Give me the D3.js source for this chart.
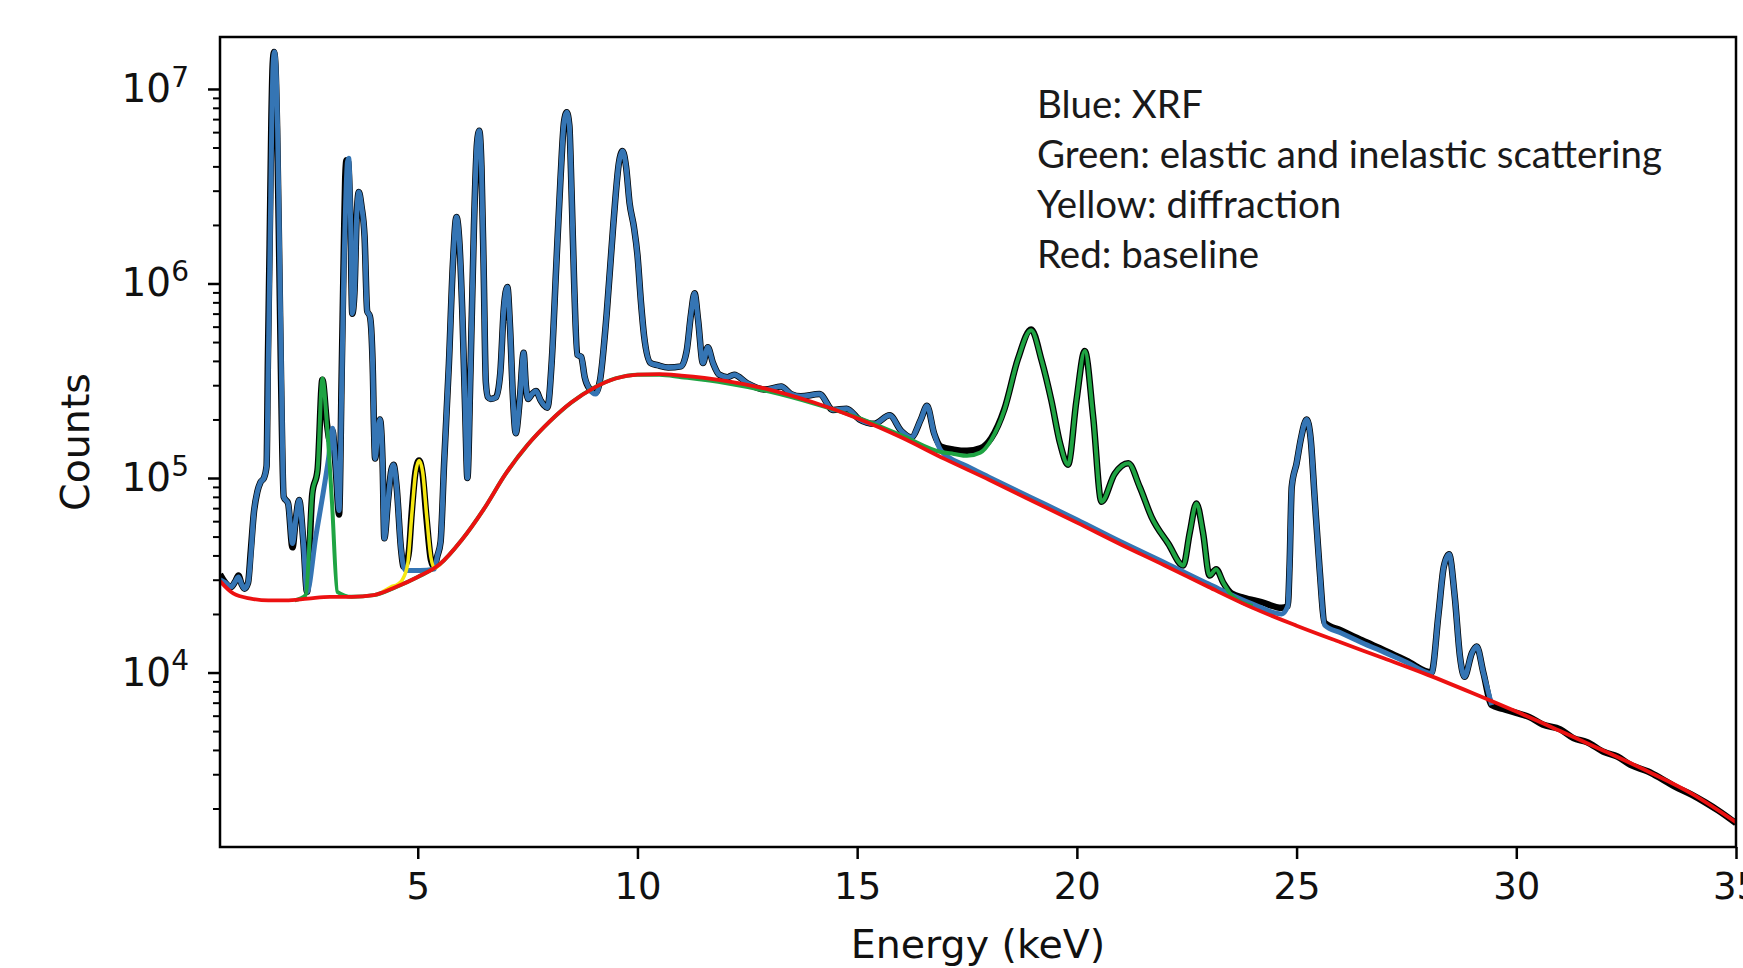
<!DOCTYPE html>
<html>
<head>
<meta charset="utf-8">
<script src="https://cdn.jsdelivr.net/npm/d3@7"></script>
<style>
  body { margin: 0; background: #fff; }
  svg { display: block; }
</style>
</head>
<body>
<div id="chart"></div>
<script>
// energy (keV), counts
var xrfFit = [
  [0.50, 30000],[0.62, 29000],[0.75, 27500],[0.85, 29500],[0.92, 31000],[0.99, 28500],[1.06, 27000],
  [1.14, 29000],[1.20, 40000],[1.27, 66000],[1.35, 85000],[1.42, 95000],[1.50, 100000],[1.56, 115000],
  [1.60, 4.0e5],[1.64, 1.6e6],[1.68, 7.1e6],[1.71, 1.35e7],[1.74, 1.55e7],[1.77, 1.35e7],[1.81, 6.3e6],
  [1.86, 1.26e6],[1.90, 3.2e5],[1.95, 8.0e4],[2.05, 7.4e4],[2.15, 4.6e4],[2.22, 6.0e4],[2.30, 7.7e4],
  [2.40, 4.6e4],[2.48, 2.6e4],[2.68, 5.0e4],[2.87, 9.0e4],[2.97, 1.26e5],[3.06, 1.8e5],[3.13, 1.19e5],
  [3.21, 6.8e4],[3.27, 3.0e5],[3.32, 1.2e6],[3.36, 2.6e6],[3.40, 4.2e6],[3.43, 4.4e6],[3.47, 2.2e6],
  [3.51, 7.0e5],[3.56, 9.0e5],[3.61, 2.2e6],[3.66, 2.95e6],[3.72, 2.5e6],[3.79, 1.74e6],[3.85, 7.2e5],
  [3.91, 6.8e5],[3.95, 5.4e5],[3.98, 3.4e5],[4.00, 2.0e5],[4.03, 1.26e5],[4.09, 1.7e5],[4.14, 2.0e5],
  [4.20, 1.2e5],[4.24, 4.9e4],[4.32, 7.5e4],[4.40, 1.1e5],[4.45, 1.17e5],[4.52, 9.0e4],[4.62, 4.3e4],
  [4.68, 3.5e4],[4.73, 3.35e4],[5.05, 3.35e4],[5.37, 3.4e4],[5.45, 4.0e4],[5.52, 4.7e4],[5.60, 1.19e5],
  [5.71, 3.9e5],[5.80, 1.26e6],[5.88, 2.2e6],[5.95, 1.6e6],[6.02, 6.5e5],[6.08, 2.2e5],[6.13, 1.0e5],
  [6.20, 3.5e5],[6.28, 2.0e6],[6.35, 5.3e6],[6.40, 6.1e6],[6.45, 4.0e6],[6.50, 1.2e6],[6.55, 3.1e5],
  [6.60, 2.6e5],[6.66, 2.55e5],[6.78, 2.6e5],[6.88, 3.5e5],[6.96, 7.5e5],[7.04, 9.6e5],[7.10, 6.0e5],
  [7.17, 2.5e5],[7.23, 1.7e5],[7.32, 2.5e5],[7.41, 4.4e5],[7.46, 3.0e5],[7.51, 2.55e5],[7.60, 2.7e5],
  [7.69, 2.8e5],[7.80, 2.5e5],[7.95, 2.3e5],[8.05, 4.0e5],[8.15, 1.2e6],[8.25, 3.5e6],[8.33, 6.8e6],
  [8.39, 7.6e6],[8.45, 6.5e6],[8.50, 3.0e6],[8.56, 1.0e6],[8.63, 4.3e5],[8.72, 4.2e5],[8.80, 3.3e5],
  [8.90, 2.9e5],[9.05, 2.7e5],[9.15, 3.2e5],[9.30, 7.0e5],[9.45, 2.0e6],[9.58, 4.2e6],[9.66, 4.8e6],
  [9.74, 4.0e6],[9.82, 2.6e6],[9.92, 1.95e6],[10.00, 1.4e6],[10.08, 8.0e5],[10.15, 5.4e5],[10.30, 3.9e5],
  [10.46, 3.8e5],[10.70, 3.7e5],[10.99, 3.75e5],[11.12, 4.5e5],[11.22, 7.0e5],[11.30, 8.9e5],[11.38, 6.5e5],
  [11.49, 3.9e5],[11.60, 4.7e5],[11.72, 3.9e5],[11.86, 3.4e5],[12.05, 3.3e5],[12.20, 3.4e5],[12.50, 3.07e5],
  [12.90, 2.85e5],[13.27, 2.95e5],[13.50, 2.7e5],[13.72, 2.63e5],[14.14, 2.7e5],[14.45, 2.24e5],[14.76, 2.27e5],
  [15.05, 2.0e5],[15.39, 1.9e5],[15.74, 2.1e5],[16.00, 1.75e5],[16.23, 1.62e5],[16.45, 2.0e5],[16.59, 2.35e5],
  [16.75, 1.7e5],[16.91, 1.38e5],[17.50, 1.15e5],[18.00, 1.01e5],[19.00, 7.85e4],[20.00, 6.1e4],[21.00, 4.7e4],
  [22.00, 3.67e4],[23.00, 2.85e4],[24.00, 2.25e4],[24.66, 2.0e4],[24.80, 2.2e4],[24.84, 3.5e4],[24.89, 9.0e4],
  [25.00, 1.19e5],[25.10, 1.6e5],[25.23, 2.0e5],[25.32, 1.6e5],[25.41, 8.0e4],[25.52, 3.5e4],[25.64, 1.75e4],
  [26.00, 1.6e4],[26.50, 1.42e4],[27.00, 1.27e4],[27.50, 1.13e4],[28.07, 9.9e3],[28.23, 2.0e4],[28.35, 3.5e4],
  [28.47, 4.05e4],[28.60, 2.45e4],[28.72, 1.2e4],[28.82, 9.5e3],[28.99, 1.26e4],[29.10, 1.36e4],[29.25, 1.0e4],
  [29.44, 6.8e3]
];

var measured = [
  [0.50, 32000],[0.62, 29000],[0.75, 27500],[0.85, 29500],[0.92, 31500],[0.99, 28500],[1.06, 27000],
  [1.14, 29000],[1.20, 42000],[1.27, 66000],[1.35, 85000],[1.42, 95000],[1.50, 100000],[1.56, 115000],
  [1.59, 4.0e5],[1.63, 1.6e6],[1.67, 7.1e6],[1.70, 1.35e7],[1.73, 1.55e7],[1.76, 1.35e7],[1.80, 6.3e6],
  [1.85, 1.26e6],[1.89, 3.2e5],[1.95, 8.0e4],[2.05, 7.4e4],[2.15, 4.4e4],[2.22, 6.0e4],[2.30, 7.7e4],
  [2.40, 4.6e4],[2.48, 2.6e4],[2.60, 8.3e4],[2.72, 1.1e5],[2.83, 3.2e5],[2.94, 1.85e5],[3.00, 1.55e5],
  [3.06, 1.75e5],[3.13, 1.15e5],[3.21, 6.5e4],[3.27, 3.5e5],[3.32, 1.6e6],[3.35, 3.5e6],[3.38, 4.3e6],
  [3.42, 4.2e6],[3.47, 2.0e6],[3.51, 7.0e5],[3.56, 9.0e5],[3.61, 2.2e6],[3.66, 2.95e6],[3.72, 2.5e6],
  [3.79, 1.74e6],[3.85, 7.2e5],[3.91, 6.8e5],[3.95, 5.4e5],[3.98, 3.4e5],[4.00, 2.0e5],[4.03, 1.26e5],
  [4.09, 1.7e5],[4.14, 2.0e5],[4.20, 1.2e5],[4.24, 4.9e4],[4.32, 7.5e4],[4.40, 1.1e5],[4.45, 1.17e5],
  [4.52, 9.0e4],[4.62, 4.3e4],[4.68, 3.5e4],[4.73, 3.6e4],[4.80, 4.2e4],[4.86, 6.5e4],[4.95, 1.08e5],
  [5.03, 1.23e5],[5.11, 1.05e5],[5.20, 6.2e4],[5.30, 3.8e4],[5.37, 3.5e4],[5.45, 4.0e4],[5.52, 4.7e4],
  [5.60, 1.19e5],[5.71, 3.9e5],[5.80, 1.26e6],[5.88, 2.2e6],[5.95, 1.6e6],[6.02, 6.5e5],[6.08, 2.2e5],
  [6.13, 1.0e5],[6.20, 3.5e5],[6.28, 2.0e6],[6.35, 5.3e6],[6.40, 6.1e6],[6.45, 4.0e6],[6.50, 1.2e6],
  [6.55, 3.1e5],[6.60, 2.6e5],[6.66, 2.55e5],[6.78, 2.6e5],[6.88, 3.5e5],[6.96, 7.5e5],[7.04, 9.6e5],
  [7.10, 6.0e5],[7.17, 2.5e5],[7.23, 1.7e5],[7.32, 2.5e5],[7.41, 4.4e5],[7.46, 3.0e5],[7.51, 2.55e5],
  [7.60, 2.7e5],[7.69, 2.8e5],[7.80, 2.5e5],[7.95, 2.3e5],[8.05, 4.0e5],[8.15, 1.2e6],[8.25, 3.5e6],
  [8.33, 6.8e6],[8.39, 7.6e6],[8.45, 6.5e6],[8.50, 3.0e6],[8.56, 1.0e6],[8.63, 4.3e5],[8.72, 4.2e5],
  [8.80, 3.3e5],[8.90, 2.9e5],[9.05, 2.75e5],[9.15, 3.2e5],[9.30, 7.0e5],[9.45, 2.0e6],[9.58, 4.2e6],
  [9.66, 4.8e6],[9.74, 4.0e6],[9.82, 2.6e6],[9.92, 1.95e6],[10.00, 1.4e6],[10.08, 8.0e5],[10.15, 5.4e5],
  [10.30, 3.9e5],[10.46, 3.8e5],[10.70, 3.7e5],[10.99, 3.75e5],[11.12, 4.5e5],[11.22, 7.0e5],[11.30, 8.9e5],
  [11.38, 6.5e5],[11.49, 3.9e5],[11.60, 4.7e5],[11.72, 3.9e5],[11.86, 3.4e5],[12.05, 3.3e5],[12.20, 3.4e5],
  [12.50, 3.07e5],[12.90, 2.85e5],[13.27, 2.95e5],[13.50, 2.7e5],[13.72, 2.63e5],[14.14, 2.7e5],[14.45, 2.24e5],
  [14.76, 2.27e5],[15.05, 2.0e5],[15.39, 1.9e5],[15.74, 2.1e5],[16.00, 1.75e5],[16.23, 1.62e5],[16.45, 2.0e5],
  [16.59, 2.35e5],[16.75, 1.7e5],[16.91, 1.45e5],[17.20, 1.4e5],[17.50, 1.38e5],[17.80, 1.42e5],[18.05, 1.6e5],
  [18.35, 2.26e5],[18.66, 4.1e5],[18.96, 5.8e5],[19.20, 4.0e5],[19.42, 2.5e5],[19.62, 1.5e5],[19.80, 1.17e5],
  [19.99, 2.5e5],[20.18, 4.5e5],[20.37, 2.07e5],[20.56, 7.55e4],[20.86, 1.05e5],[21.17, 1.19e5],[21.43, 9.0e4],
  [21.70, 6.3e4],[22.08, 4.6e4],[22.42, 3.55e4],[22.57, 5.25e4],[22.72, 7.4e4],[22.87, 5.25e4],[23.02, 3.15e4],
  [23.17, 3.4e4],[23.33, 2.9e4],[23.52, 2.55e4],[23.80, 2.42e4],[24.20, 2.3e4],[24.66, 2.15e4],[24.80, 2.2e4],
  [24.84, 3.5e4],[24.89, 9.0e4],[25.00, 1.19e5],[25.10, 1.6e5],[25.23, 2.0e5],[25.32, 1.6e5],[25.41, 8.0e4],
  [25.52, 3.5e4],[25.64, 1.8e4],[26.00, 1.65e4],[26.50, 1.46e4],[27.00, 1.3e4],[27.50, 1.15e4],[28.07, 1.0e4],
  [28.23, 2.0e4],[28.35, 3.5e4],[28.47, 4.05e4],[28.60, 2.45e4],[28.72, 1.2e4],[28.82, 9.5e3],[28.99, 1.26e4],
  [29.10, 1.36e4],[29.25, 1.0e4],[29.44, 6.8e3],[29.70, 6.5e3],[30.00, 6.2e3],[30.30, 5.9e3],[30.60, 5.4e3],
  [31.00, 5.1e3],[31.30, 4.6e3],[31.60, 4.4e3],[32.00, 3.9e3],[32.30, 3.7e3],[32.60, 3.35e3],[33.00, 3.1e3],
  [33.30, 2.85e3],[33.60, 2.6e3],[34.00, 2.35e3],[34.30, 2.15e3],[34.60, 1.95e3],[35.00, 1.68e3]
];

var scattering = [
  [2.20, 23500],[2.45, 25000],[2.60, 8.3e4],[2.72, 1.1e5],[2.83, 3.25e5],[2.94, 1.8e5],[3.05, 7.4e4],
  [3.17, 2.6e4],[3.50, 24500],[4.00, 25000],[4.50, 27500],[5.00, 31000],[5.50, 36000],[6.00, 48000],
  [6.50, 69000],[7.00, 1.05e5],[7.50, 1.48e5],[8.00, 1.95e5],[8.50, 2.45e5],[9.00, 2.9e5],[9.50, 3.25e5],
  [10.00, 3.4e5],[10.50, 3.4e5],[11.00, 3.3e5],[12.00, 3.08e5],[13.00, 2.78e5],[14.00, 2.42e5],[15.00, 2.05e5],
  [16.00, 1.66e5],[16.90, 1.36e5],[17.20, 1.33e5],[17.50, 1.3e5],[17.80, 1.35e5],[18.05, 1.57e5],[18.35, 2.24e5],
  [18.66, 4.1e5],[18.96, 5.75e5],[19.20, 4.0e5],[19.42, 2.5e5],[19.62, 1.5e5],[19.80, 1.17e5],[19.99, 2.5e5],
  [20.18, 4.5e5],[20.37, 2.07e5],[20.56, 7.55e4],[20.86, 1.05e5],[21.17, 1.19e5],[21.43, 9.0e4],[21.70, 6.3e4],
  [22.08, 4.6e4],[22.42, 3.55e4],[22.57, 5.25e4],[22.72, 7.4e4],[22.87, 5.25e4],[23.02, 3.15e4],[23.17, 3.4e4],
  [23.33, 2.9e4],[23.52, 2.5e4],[24.00, 2.2e4]
];

var diffraction = [
  [4.20, 26000],[4.385, 27500],[4.55, 28500],[4.65, 30000],[4.77, 36000],[4.86, 63000],[4.95, 1.06e5],
  [5.03, 1.23e5],[5.11, 1.08e5],[5.20, 6.5e4],[5.30, 3.9e4],[5.38, 3.45e4],[5.55, 37000]
];

var baseline = [
  [0.5, 29500],[0.8, 25500],[1.2, 24000],[1.6, 23500],[2.0, 23500],[2.5, 24000],[3.0, 24500],[3.5, 24500],
  [4.0, 25000],[4.5, 27500],[5.0, 31000],[5.5, 36000],[6.0, 48000],[6.5, 69000],[7.0, 1.05e5],[7.5, 1.48e5],
  [8.0, 1.95e5],[8.5, 2.45e5],[9.0, 2.9e5],[9.5, 3.25e5],[10.0, 3.4e5],[10.5, 3.42e5],[11.0, 3.36e5],
  [12.0, 3.16e5],[13.0, 2.85e5],[14.0, 2.45e5],[15.0, 2.03e5],[16.0, 1.62e5],[17.0, 1.25e5],[18.0, 9.8e4],
  [19.0, 7.6e4],[20.0, 5.9e4],[21.0, 4.55e4],[22.0, 3.55e4],[23.0, 2.75e4],[24.0, 2.15e4],[25.0, 1.74e4],
  [26.0, 1.43e4],[27.0, 1.18e4],[28.0, 9.7e3],[29.0, 7.85e3],[30.0, 6.3e3],[31.0, 5.0e3],[32.0, 3.95e3],
  [33.0, 3.1e3],[34.0, 2.38e3],[35.0, 1.7e3]
];

var xTicks = [5, 10, 15, 20, 25, 30, 35];
var yMajor = [1e4, 1e5, 1e6, 1e7];
var yMinor = [2e3, 3e3, 4e3, 5e3, 6e3, 7e3, 8e3, 9e3,
              2e4, 3e4, 4e4, 5e4, 6e4, 7e4, 8e4, 9e4,
              2e5, 3e5, 4e5, 5e5, 6e5, 7e5, 8e5, 9e5,
              2e6, 3e6, 4e6, 5e6, 6e6, 7e6, 8e6, 9e6];
var legendLines = ["Blue: XRF", "Green: elastic and inelastic scattering", "Yellow: diffraction", "Red: baseline"];

var margin = {top: 37, right: 7, bottom: 121, left: 220},
    width = 1743 - margin.left - margin.right,
    height = 968 - margin.top - margin.bottom;

var root = d3.select("#chart").append("svg")
    .attr("width", 1743)
    .attr("height", 968);

var svg = root.append("g")
    .attr("transform", "translate(" + margin.left + "," + margin.top + ")");

var x = d3.scaleLinear().domain([0.5, 35]).range([0, width]);
var y = d3.scaleLog().domain([1268, 1.85e7]).range([height, 0]);

svg.append("clipPath").attr("id", "plotclip")
  .append("rect").attr("width", width).attr("height", height);

var line = d3.line()
    .x(function(d) { return x(d[0]); })
    .y(function(d) { return y(d[1]); })
    .curve(d3.curveMonotoneX);

var plot = svg.append("g").attr("clip-path", "url(#plotclip)");

// data first, then the fitted components on top
plot.append("path").datum(measured)
    .style("fill", "none").style("stroke", "#000").style("stroke-width", 6.5)
    .style("stroke-linejoin", "round").attr("d", line);
plot.append("path").datum(xrfFit)
    .style("fill", "none").style("stroke", "#3575b4").style("stroke-width", 5)
    .style("stroke-linejoin", "round").attr("d", line);
plot.append("path").datum(scattering)
    .style("fill", "none").style("stroke", "#1fa443").style("stroke-width", 4)
    .style("stroke-linejoin", "round").attr("d", line);
plot.append("path").datum(diffraction)
    .style("fill", "none").style("stroke", "#f5e812").style("stroke-width", 3.5)
    .style("stroke-linejoin", "round").attr("d", line);
plot.append("path").datum(baseline)
    .style("fill", "none").style("stroke", "#ec1111").style("stroke-width", 3.8)
    .style("stroke-linejoin", "round").attr("d", line);

// axes
var tickFont = "DejaVu Sans";

var xAxis = svg.append("g")
    .attr("transform", "translate(0," + height + ")")
    .call(d3.axisBottom(x).tickValues(xTicks).tickSize(12).tickPadding(14).tickSizeOuter(0));

var yMinorAxis = svg.append("g")
    .call(d3.axisLeft(y).tickValues(yMinor).tickSize(7).tickFormat("").tickSizeOuter(0));

var yAxis = svg.append("g")
    .call(d3.axisLeft(y).tickValues(yMajor).tickSize(12).tickPadding(19).tickSizeOuter(0)
      .tickFormat(function(d) { return ""; }));

[xAxis, yAxis, yMinorAxis].forEach(function(a) {
  a.select(".domain").remove();
  a.selectAll(".tick line").style("stroke", "#000").style("stroke-width", 2.5);
  a.selectAll(".tick text").style("font-family", tickFont).style("font-size", "37px").style("fill", "#111");
});
yMinorAxis.selectAll(".tick line").style("stroke-width", 2);

yAxis.selectAll(".tick text").style("font-size", "39px").each(function(d) {
  var t = d3.select(this);
  t.append("tspan").text("10");
  t.append("tspan").text(Math.round(Math.log10(d)))
    .attr("dy", "-0.55em").style("font-size", "28px");
});

// frame
svg.append("rect")
    .attr("width", width).attr("height", height)
    .style("fill", "none").style("stroke", "#000").style("stroke-width", 2.5);

// axis titles
svg.append("text")
    .attr("x", width / 2).attr("y", height + 111)
    .attr("text-anchor", "middle")
    .style("font-family", tickFont).style("font-size", "39.5px").style("fill", "#111")
    .text("Energy (keV)");

svg.append("text")
    .attr("transform", "translate(" + (-131) + "," + (height / 2) + ") rotate(-90)")
    .attr("text-anchor", "middle")
    .style("font-family", tickFont).style("font-size", "39.5px").style("fill", "#111")
    .text("Counts");

// annotation
var legend = root.append("g");
legend.selectAll("text")
    .data(legendLines)
  .enter().append("text")
    .attr("x", 1037)
    .attr("y", function(d, i) { return 118 + i * 50; })
    .style("font-family", "Lato")
    .style("font-size", "38px")
    .style("fill", "#1a1a1a")
    .text(function(d) { return d; });

// fit the long line to its width in the figure
var longest = legend.selectAll("text").filter(function(d, i) { return i == 1; }).node();
var w = longest.getComputedTextLength();
var fs = 38 * 625 / w;
legend.selectAll("text").style("font-size", fs + "px");
</script>
</body>
</html>
